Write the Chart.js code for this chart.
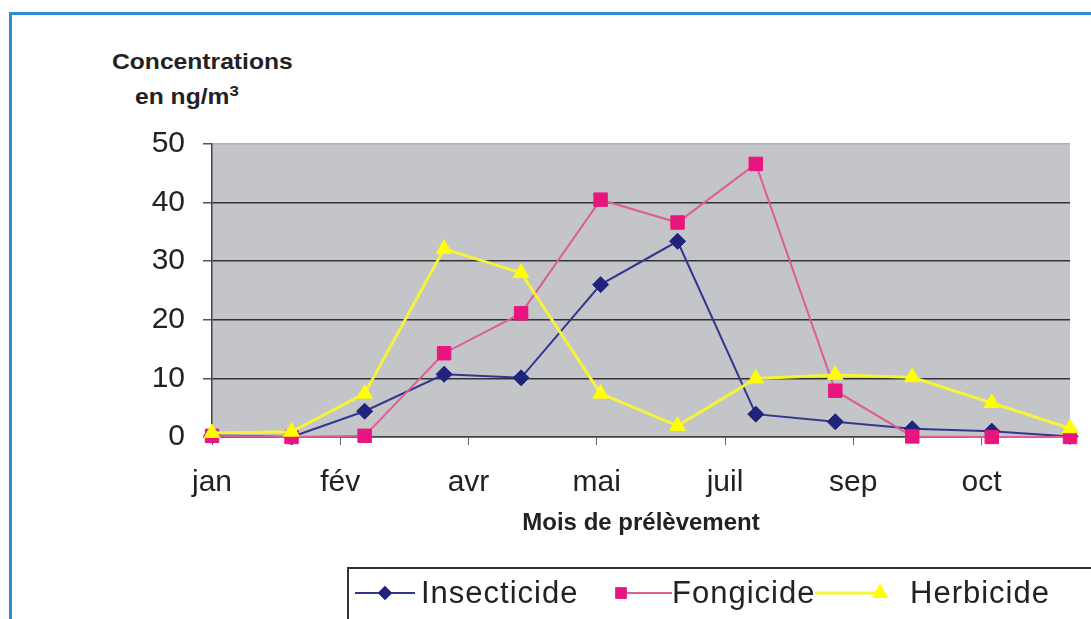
<!DOCTYPE html>
<html>
<head>
<meta charset="utf-8">
<script src="https://cdn.jsdelivr.net/npm/chart.js@4/dist/chart.umd.min.js"></script>
<style>
html, body { margin: 0; padding: 0; background: #fff; width: 1091px; height: 619px; overflow: hidden; }
#frame { position: absolute; left: 9px; top: 12px; width: 1200px; height: 700px; border: 3px solid #2a8dd0; box-sizing: border-box; }
#wrap { position: absolute; left: 0; top: 0; width: 1091px; height: 619px; }
.ytitle { position: absolute; font-family: "Liberation Sans", Arial, sans-serif; font-weight: bold; font-size: 22px; color: #222; white-space: nowrap; line-height: 26px; transform: scaleX(1.12); transform-origin: left center; }
.ytitle sup { font-size: 15px; line-height: 0; }
</style>
</head>
<body>
<div id="frame"></div>
<div class="ytitle" style="left:112px; top:49px;">Concentrations</div>
<div class="ytitle" style="left:135px; top:84px;">en ng/m<sup>3</sup></div>
<div id="wrap"><canvas id="myChart" width="1091" height="619"></canvas></div>
<script>
// month labels sit on whole-number ticks, samples fall between them
const monthLabels = ['jan', 'fév', 'avr', 'mai', 'juil', 'sep', 'oct'];
const monthTicks = [0, 1, 2, 3, 4, 5, 6];
const samplePositions = [0, 0.62, 1.19, 1.81, 2.41, 3.03, 3.63, 4.24, 4.86, 5.46, 6.08, 6.69];

const insecticide = [0.3, 0, 4.4, 10.7, 10.1, 26, 33.4, 3.9, 2.6, 1.4, 1.0, 0.1];
const fongicide = [0.2, 0, 0.2, 14.3, 21.1, 40.5, 36.6, 46.6, 7.9, 0.1, 0, 0];
const herbicide = [0.7, 0.9, 7.4, 32.1, 28, 7.4, 1.9, 10, 10.6, 10.2, 5.8, 1.5];

const yTicks = [0, 10, 20, 30, 40, 50];

function toPoints(values) {
    return values.map((v, i) => ({ x: samplePositions[i], y: v }));
}

const plotBackground = {
    id: 'plotBackground',
    beforeDraw(chart) {
        const { ctx, chartArea: a } = chart;
        ctx.save();
        ctx.fillStyle = '#c3c5c8';
        ctx.fillRect(a.left, a.top, a.right - a.left, a.bottom - a.top);
        ctx.restore();
    }
};

// excel-like legend box: line + marker then label
const boxLegend = {
    id: 'boxLegend',
    afterDraw(chart) {
        const ctx = chart.ctx;
        const ds = chart.data.datasets;
        const y = 593;
        ctx.save();
        ctx.strokeStyle = '#333';
        ctx.lineWidth = 2;
        ctx.strokeRect(348, 568, 800, 100);
        const items = [
            { line: [355, 415], marker: 385, text: 421 },
            { line: [621, 672], marker: 621, text: 672 },
            { line: [815, 880], marker: 880, text: 910 }
        ];
        items.forEach((it, i) => {
            const d = ds[i];
            ctx.strokeStyle = d.borderColor;
            ctx.lineWidth = d.borderWidth;
            ctx.beginPath();
            ctx.moveTo(it.line[0], y);
            ctx.lineTo(it.line[1], y);
            ctx.stroke();
            Chart.helpers.drawPoint(ctx, {
                pointStyle: d.pointStyle,
                radius: d.pointRadius * 0.7,
                rotation: 0,
                borderWidth: 1
            }, it.marker, y);
            ctx.fillStyle = d.pointBackgroundColor;
            ctx.strokeStyle = d.pointBorderColor;
            ctx.fill();
            ctx.stroke();
            ctx.fillStyle = '#222';
            ctx.font = '31px "Liberation Sans", Arial, sans-serif';
            ctx.letterSpacing = '1px';
            ctx.textBaseline = 'middle';
            ctx.textAlign = 'left';
            ctx.fillText(d.label, it.text, y + 1);
            ctx.letterSpacing = '0px';
        });
        ctx.restore();
    }
};

function createChart() {
    const ctx = document.getElementById('myChart');
    new Chart(ctx, {
        type: 'line',
        data: {
            datasets: [{
                label: 'Insecticide',
                data: toPoints(insecticide),
                borderColor: '#33368f',
                borderWidth: 2,
                pointStyle: 'rectRot',
                pointRadius: 8,
                pointBackgroundColor: '#1f237a',
                pointBorderColor: '#1f237a',
                pointBorderWidth: 1,
                order: 2
            }, {
                label: 'Fongicide',
                data: toPoints(fongicide),
                borderColor: '#dc5e93',
                borderWidth: 2,
                pointStyle: 'rect',
                pointRadius: 9.5,
                pointBackgroundColor: '#e8157e',
                pointBorderColor: '#e8157e',
                pointBorderWidth: 1,
                order: 1
            }, {
                label: 'Herbicide',
                data: toPoints(herbicide),
                borderColor: '#f5f33a',
                borderWidth: 3,
                pointStyle: 'triangle',
                pointRadius: 9,
                pointBackgroundColor: '#ffff00',
                pointBorderColor: '#ffff00',
                pointBorderWidth: 1,
                order: 0
            }]
        },
        options: {
            responsive: false,
            animation: false,
            clip: false,
            layout: { padding: { left: 0, right: 21, top: 144, bottom: 0 } },
            plugins: {
                legend: { display: false },
                tooltip: { enabled: false }
            },
            scales: {
                x: {
                    type: 'linear',
                    min: 0,
                    max: samplePositions[samplePositions.length - 1],
                    afterBuildTicks: (axis) => { axis.ticks = monthTicks.map(v => ({ value: v })); },
                    afterFit: (axis) => { axis.height = 182; },
                    ticks: {
                        callback: (value) => monthLabels[value],
                        font: { size: 30, family: '"Liberation Sans", Arial, sans-serif' },
                        color: '#222',
                        padding: 20,
                        maxRotation: 0,
                        autoSkip: false
                    },
                    grid: { drawOnChartArea: false, tickLength: 8, color: '#666', lineWidth: 1 },
                    border: { color: '#444', width: 1.5 },
                    title: {
                        display: true,
                        text: 'Mois de prélèvement',
                        font: { size: 24, weight: 'bold', family: '"Liberation Sans", Arial, sans-serif' },
                        color: '#222',
                        padding: { bottom: 81 }
                    }
                },
                y: {
                    min: 0,
                    max: 50,
                    afterBuildTicks: (axis) => { axis.ticks = yTicks.map(v => ({ value: v })); },
                    afterFit: (axis) => { axis.width = 212; },
                    ticks: {
                        font: { size: 30, family: '"Liberation Sans", Arial, sans-serif' },
                        color: '#222',
                        padding: 18
                    },
                    grid: {
                        color: (c) => c.tick && c.tick.value === 50 ? '#aeb0b3' : '#333',
                        tickColor: '#555',
                        lineWidth: 1.5,
                        tickLength: 9
                    },
                    border: { color: '#444', width: 1.5 }
                }
            }
        },
        plugins: [plotBackground, boxLegend]
    });
}

createChart();
</script>
</body>
</html>
